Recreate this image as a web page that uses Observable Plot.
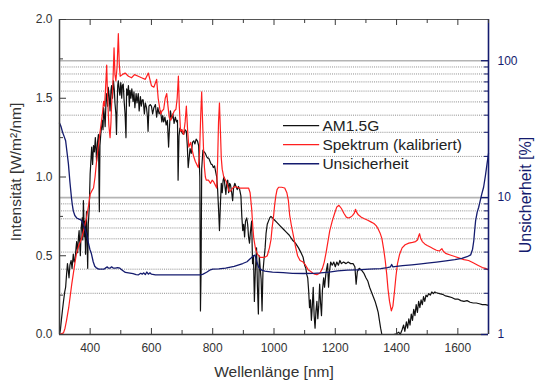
<!DOCTYPE html>
<html><head><meta charset="utf-8">
<script src="https://cdn.jsdelivr.net/npm/d3@7"></script>
<script src="https://cdn.jsdelivr.net/npm/@observablehq/plot@0.6"></script>
<style>html,body{margin:0;padding:0;background:#fff;}</style>
</head><body><div id="chart"></div>
<script>
// ---- data: [wavelength nm, value] ----
const am15g = [[300,0],[303,0.03],[306,0.09],[310,0.16],[313,0.21],[317,0.27],[320,0.30],[323,0.38],[326,0.45],[329,0.40],[331,0.36],[334,0.44],[338,0.47],[341,0.42],[345,0.51],[348,0.46],[351,0.48],[354,0.55],[356,0.59],[359,0.52],[362,0.62],[364,0.66],[366,0.58],[368,0.50],[371,0.68],[374,0.74],[376,0.60],[378,0.85],[381,0.62],[383,0.72],[385,0.51],[388,0.78],[390,0.60],[392,0.42],[394,0.70],[397,0.80],[400,1.02],[403,1.12],[405,1.19],[408,1.08],[411,1.20],[414,1.16],[417,1.25],[419,1.18],[421,1.10],[424,1.22],[427,1.27],[430,0.78],[432,1.20],[435,1.28],[437,1.31],[440,1.36],[442,1.30],[444,1.44],[447,1.38],[449,1.32],[452,1.50],[454,1.53],[457,1.45],[459,1.57],[462,1.52],[465,1.42],[468,1.55],[470,1.58],[473,1.50],[476,1.61],[479,1.55],[481,1.47],[484,1.40],[486,1.27],[488,1.45],[490,1.58],[492,1.61],[495,1.55],[497,1.52],[500,1.60],[503,1.50],[505,1.58],[508,1.59],[511,1.48],[514,1.40],[517,1.25],[519,1.56],[522,1.52],[525,1.58],[528,1.45],[530,1.55],[533,1.50],[536,1.56],[540,1.48],[543,1.54],[546,1.44],[550,1.53],[553,1.47],[557,1.53],[560,1.42],[564,1.51],[567,1.45],[570,1.49],[573,1.49],[577,1.40],[580,1.47],[584,1.44],[587,1.38],[589,1.29],[592,1.45],[596,1.46],[600,1.45],[604,1.40],[608,1.44],[613,1.46],[617,1.38],[621,1.44],[625,1.40],[630,1.42],[634,1.35],[637,1.39],[640,1.35],[644,1.38],[648,1.33],[652,1.36],[656,1.19],[659,1.32],[662,1.42],[666,1.37],[670,1.40],[674,1.34],[678,1.38],[682,1.35],[685,1.36],[687,0.98],[690,1.26],[693,1.31],[697,1.30],[700,1.28],[705,1.27],[710,1.30],[714,1.29],[717,1.20],[720,1.06],[723,1.12],[726,1.18],[730,1.15],[734,1.22],[738,1.23],[742,1.21],[746,1.24],[750,1.23],[754,1.20],[758,1.00],[760,0.15],[762,0.40],[764,1.05],[768,1.17],[772,1.16],[776,1.15],[780,1.13],[784,1.12],[787,1.12],[791,1.10],[795,1.08],[798,1.08],[802,1.06],[806,1.07],[810,1.03],[813,1.00],[816,0.92],[819,0.80],[822,0.66],[825,0.82],[828,0.96],[831,0.90],[834,0.98],[837,1.00],[840,0.94],[843,0.89],[846,0.97],[849,0.98],[852,0.90],[855,0.96],[858,0.95],[862,0.90],[865,0.85],[868,0.93],[872,0.96],[876,0.94],[880,0.92],[884,0.94],[888,0.92],[892,0.88],[895,0.75],[898,0.66],[901,0.70],[904,0.62],[907,0.72],[911,0.74],[914,0.70],[917,0.62],[920,0.58],[923,0.65],[927,0.72],[930,0.45],[933,0.50],[936,0.21],[939,0.40],[943,0.55],[946,0.30],[949,0.13],[952,0.50],[955,0.42],[958,0.35],[961,0.15],[964,0.40],[967,0.47],[971,0.55],[974,0.64],[978,0.70],[982,0.72],[986,0.74],[990,0.75],[995,0.74],[1000,0.73],[1010,0.71],[1020,0.69],[1030,0.67],[1040,0.65],[1050,0.63],[1060,0.60],[1070,0.58],[1080,0.55],[1088,0.52],[1095,0.49],[1100,0.44],[1104,0.42],[1107,0.38],[1110,0.36],[1113,0.28],[1116,0.17],[1119,0.22],[1122,0.09],[1125,0.18],[1128,0.30],[1131,0.12],[1134,0.04],[1137,0.15],[1140,0.21],[1143,0.10],[1146,0.18],[1149,0.32],[1152,0.20],[1155,0.12],[1158,0.28],[1162,0.36],[1165,0.30],[1169,0.38],[1172,0.42],[1175,0.45],[1178,0.30],[1181,0.40],[1185,0.46],[1190,0.44],[1195,0.46],[1200,0.43],[1205,0.46],[1210,0.44],[1215,0.47],[1220,0.45],[1227,0.46],[1235,0.45],[1242,0.46],[1250,0.45],[1258,0.45],[1264,0.43],[1268,0.32],[1272,0.40],[1278,0.42],[1285,0.41],[1293,0.39],[1300,0.36],[1306,0.34],[1312,0.30],[1318,0.27],[1324,0.24],[1330,0.21],[1336,0.17],[1340,0.14],[1344,0.09],[1348,0.04],[1352,0.0],[1390,0],[1400,0.005],[1407,0.015],[1412,0.0],[1418,0.03],[1423,0.06],[1427,0.02],[1432,0.08],[1436,0.04],[1440,0.10],[1444,0.06],[1448,0.13],[1452,0.09],[1456,0.16],[1460,0.12],[1464,0.19],[1468,0.14],[1472,0.21],[1476,0.17],[1480,0.22],[1484,0.19],[1488,0.24],[1492,0.21],[1496,0.25],[1500,0.24],[1505,0.26],[1510,0.25],[1515,0.27],[1520,0.26],[1525,0.27],[1530,0.265],[1540,0.26],[1550,0.255],[1560,0.245],[1570,0.24],[1580,0.235],[1590,0.225],[1600,0.225],[1610,0.215],[1620,0.21],[1630,0.215],[1640,0.205],[1650,0.2],[1660,0.2],[1670,0.195],[1680,0.19],[1690,0.19],[1700,0.185]];

const spektrum = [[300,0],[313,0.01],[318,0.04],[323,0.09],[330,0.17],[336,0.26],[340,0.32],[345,0.385],[350,0.45],[355,0.51],[362,0.56],[372,0.61],[380,0.67],[388,0.74],[395,0.82],[400,0.89],[405,0.91],[411,0.93],[416,1.00],[421,1.10],[427,1.20],[434,1.31],[440,1.40],[444,1.48],[447,1.45],[450,1.55],[454,1.71],[457,1.50],[461,1.33],[465,1.25],[468,1.35],[470,1.46],[474,1.58],[478,1.82],[481,1.65],[484,1.61],[488,1.70],[492,1.91],[495,1.72],[498,1.64],[505,1.65],[514,1.66],[525,1.64],[535,1.63],[545,1.65],[557,1.64],[568,1.63],[580,1.62],[590,1.66],[595,1.62],[600,1.58],[608,1.57],[617,1.62],[622,1.50],[630,1.40],[635,1.42],[640,1.43],[645,1.50],[650,1.53],[654,1.45],[658,1.38],[663,1.36],[668,1.39],[675,1.42],[680,1.43],[684,1.50],[688,1.64],[691,1.45],[695,1.29],[700,1.30],[705,1.27],[710,1.35],[714,1.45],[718,1.30],[722,1.19],[728,1.22],[733,1.17],[738,1.13],[743,1.10],[748,1.08],[753,1.06],[757,1.15],[761,1.40],[764,1.54],[767,1.35],[770,1.18],[773,1.06],[776,1.00],[779,0.98],[786,0.98],[793,0.96],[798,0.98],[803,0.97],[808,0.95],[813,0.93],[816,1.10],[819,1.35],[822,1.47],[825,1.30],[828,1.12],[831,1.05],[836,1.00],[842,0.98],[848,0.95],[853,0.91],[858,0.91],[865,0.93],[874,0.94],[885,0.93],[897,0.93],[910,0.93],[917,0.93],[922,0.90],[927,0.80],[931,0.68],[934,0.61],[940,0.54],[946,0.51],[955,0.49],[962,0.49],[970,0.49],[978,0.50],[985,0.55],[990,0.60],[994,0.68],[998,0.74],[1002,0.82],[1006,0.88],[1010,0.92],[1015,0.935],[1025,0.935],[1035,0.93],[1042,0.90],[1047,0.85],[1051,0.76],[1056,0.70],[1060,0.66],[1065,0.61],[1070,0.56],[1077,0.50],[1085,0.47],[1095,0.46],[1103,0.44],[1112,0.41],[1120,0.40],[1130,0.385],[1140,0.38],[1150,0.39],[1158,0.42],[1164,0.46],[1170,0.52],[1176,0.59],[1182,0.66],[1190,0.72],[1198,0.77],[1205,0.81],[1212,0.82],[1220,0.80],[1228,0.77],[1236,0.745],[1243,0.74],[1250,0.745],[1256,0.755],[1262,0.77],[1266,0.795],[1270,0.775],[1275,0.76],[1285,0.745],[1295,0.735],[1306,0.725],[1316,0.715],[1326,0.705],[1334,0.69],[1340,0.67],[1346,0.645],[1352,0.61],[1358,0.54],[1363,0.47],[1368,0.38],[1372,0.29],[1377,0.21],[1383,0.15],[1388,0.18],[1393,0.27],[1398,0.37],[1403,0.45],[1410,0.51],[1418,0.55],[1428,0.57],[1440,0.58],[1452,0.585],[1462,0.59],[1468,0.60],[1472,0.625],[1475,0.64],[1478,0.615],[1484,0.59],[1492,0.575],[1500,0.565],[1510,0.555],[1520,0.545],[1530,0.535],[1540,0.53],[1545,0.54],[1548,0.545],[1552,0.53],[1560,0.515],[1575,0.505],[1590,0.495],[1605,0.485],[1620,0.475],[1635,0.47],[1650,0.455],[1665,0.44],[1680,0.425],[1690,0.42],[1700,0.41]];

// uncertainty in percent
const unsicherheit = [[300,35],[305,33],[310,30],[315,28],[320,26],[325,21],[329,17.7],[334,13],[339,10],[342,8.8],[345,8.0],[350,7.4],[356,7.1],[362,7.0],[368,6.9],[372,6.8],[378,6.4],[383,5.9],[388,5.4],[394,4.7],[399,4.2],[404,3.9],[410,3.4],[415,3.15],[420,3.07],[428,3.0],[437,3.0],[445,3.0],[452,3.08],[456,3.12],[460,3.05],[465,3.05],[470,3.12],[475,3.06],[482,3.05],[490,3.08],[497,3.05],[505,2.95],[515,2.84],[525,2.82],[540,2.78],[550,2.74],[558,2.73],[565,2.80],[570,2.76],[575,2.82],[580,2.74],[585,2.86],[590,2.76],[595,2.82],[600,2.76],[613,2.73],[640,2.73],[680,2.73],[720,2.73],[760,2.73],[767,2.75],[780,2.85],[790,2.95],[800,3.0],[820,3.02],[842,3.05],[870,3.15],[898,3.3],[912,3.4],[924,3.6],[932,3.75],[938,3.8],[944,3.4],[950,3.1],[960,2.95],[970,2.9],[982,2.88],[995,2.86],[1030,2.83],[1060,2.8],[1097,2.79],[1130,2.8],[1152,2.82],[1180,2.86],[1208,2.92],[1240,2.95],[1273,2.97],[1310,3.0],[1348,3.03],[1370,3.08],[1380,3.12],[1384,3.25],[1388,3.12],[1400,3.15],[1420,3.18],[1450,3.23],[1480,3.28],[1500,3.32],[1530,3.38],[1561,3.45],[1590,3.52],[1613,3.6],[1630,3.7],[1642,3.82],[1648,4.2],[1652,4.84],[1655,5.8],[1658,6.8],[1663,7.8],[1668,8.5],[1673,9.5],[1678,10.6],[1684,11.9],[1690,14.5],[1695,17.5],[1700,21]];

// ticks
const xMajorTicks = [400,600,800,1000,1200,1400,1600];
const xMinorTicks = [300,500,700,900,1100,1300,1500,1700];
const yMajorTicks = [0,0.5,1.0,1.5,2.0];
const yMinorTicks = [0.25,0.75,1.25,1.75];
const uMajorTicks = [1,10,100];
const uMinorTicks = [2,3,4,5,6,7,8,9,20,30,40,50,60,70,80,90];
const uMax = 200;

const legendItems = [
  {label: "AM1.5G", color: "#111111"},
  {label: "Spektrum (kalibriert)", color: "#ff1f1f"},
  {label: "Unsicherheit", color: "#141b6e"}
];

// ---- layout ----
const W = 537, H = 381, mL = 59, mR = 49, mT = 19, mB = 47;
const pw = W - mL - mR, ph = H - mT - mB;
const navy = "#141b6e";
const axisGray = "#3a3a3a";
// map uncertainty (log) onto the intensity coordinate
const uy = u => 2 * Math.log10(u) / Math.log10(uMax);
// legend placement (in data coordinates of the frame)
const legY = [1.326, 1.205, 1.084], legX1 = 1031, legX2 = 1149, legXT = 1158;

const plot = Plot.plot({
  width: W, height: H,
  marginLeft: mL, marginRight: mR, marginTop: mT, marginBottom: mB,
  style: {fontFamily: "'Liberation Sans', Arial, sans-serif", fontSize: "12px", color: "#333", background: "#fff"},
  x: {domain: [300, 1700], axis: null},
  y: {domain: [0, 2], axis: null},
  marks: [
    // gridlines (log grid of right axis)
    Plot.ruleY(uMinorTicks, {y: uy, stroke: "#8c8c8c", strokeWidth: 1, strokeDasharray: "1,1.1"}),
    Plot.ruleY([10, 100], {y: uy, stroke: "#b4b4b4", strokeWidth: 1.6}),
    // series
    Plot.line(am15g, {x: d => d[0], y: d => d[1], stroke: "#111", strokeWidth: 1.2}),
    Plot.line(spektrum, {x: d => d[0], y: d => d[1], stroke: "#ff1f1f", strokeWidth: 1.2}),
    Plot.line(unsicherheit, {x: d => d[0], y: d => uy(d[1]), stroke: navy, strokeWidth: 1.3}),
    // frame
    Plot.ruleY([0], {stroke: axisGray, strokeWidth: 1.5}),
    Plot.ruleY([2], {stroke: "#555", strokeWidth: 1.2}),
    Plot.ruleX([300], {stroke: axisGray, strokeWidth: 1.5}),
    Plot.ruleX([1700], {stroke: navy, strokeWidth: 1.6}),
    // inward ticks x (bottom & top)
    Plot.ruleX(xMajorTicks, {x: d => d, insetTop: ph - 6, stroke: axisGray}),
    Plot.ruleX(xMinorTicks, {x: d => d, insetTop: ph - 4, stroke: axisGray}),
    Plot.ruleX(xMajorTicks, {x: d => d, insetBottom: ph - 6, stroke: axisGray}),
    Plot.ruleX(xMinorTicks, {x: d => d, insetBottom: ph - 4, stroke: axisGray}),
    // inward ticks left
    Plot.ruleY(yMajorTicks, {y: d => d, insetRight: pw - 7, stroke: axisGray}),
    Plot.ruleY(yMinorTicks, {y: d => d, insetRight: pw - 4, stroke: axisGray}),
    // inward ticks right (log)
    Plot.ruleY(uMajorTicks, {y: uy, insetLeft: pw - 7, stroke: navy, strokeWidth: 1.3}),
    Plot.ruleY(uMinorTicks, {y: uy, insetLeft: pw - 4, stroke: navy}),
    // tick labels
    Plot.text(xMajorTicks, {x: d => d, text: d => String(d), frameAnchor: "bottom", dy: 14, lineAnchor: "middle", fill: "#333", fontSize: 12}),
    Plot.text(yMajorTicks, {y: d => d, text: d => d.toFixed(1), frameAnchor: "left", textAnchor: "end", dx: -7, fill: "#333", fontSize: 12}),
    Plot.text(uMajorTicks, {y: uy, text: d => String(d), frameAnchor: "right", textAnchor: "start", dx: 9, fill: navy, fontSize: 12}),
    // axis titles
    Plot.text(["Wellenlänge [nm]"], {text: d => d, frameAnchor: "bottom", textAnchor: "middle", dy: 38, lineAnchor: "middle", fill: "#333", fontSize: 15.5}),
    Plot.text(["Intensität [W/m²/nm]"], {text: d => d, frameAnchor: "left", textAnchor: "middle", lineAnchor: "middle", rotate: -90, dx: -43, dy: -5, fill: "#333", fontSize: 15.5}),
    Plot.text(["Unsicherheit [%]"], {text: d => d, frameAnchor: "right", textAnchor: "middle", lineAnchor: "middle", rotate: -90, dx: 37, dy: 18, fill: navy, fontSize: 16}),
    // legend
    Plot.ruleY(legendItems, {y: (d, i) => legY[i], x1: legX1, x2: legX2, stroke: d => d.color, strokeWidth: 1.3}),
    Plot.text(legendItems, {y: (d, i) => legY[i], x: legXT, text: d => d.label, textAnchor: "start", lineAnchor: "middle", fill: "#222", fontSize: 15.5})
  ]
});
document.getElementById("chart").append(plot);
</script>
</body></html>
